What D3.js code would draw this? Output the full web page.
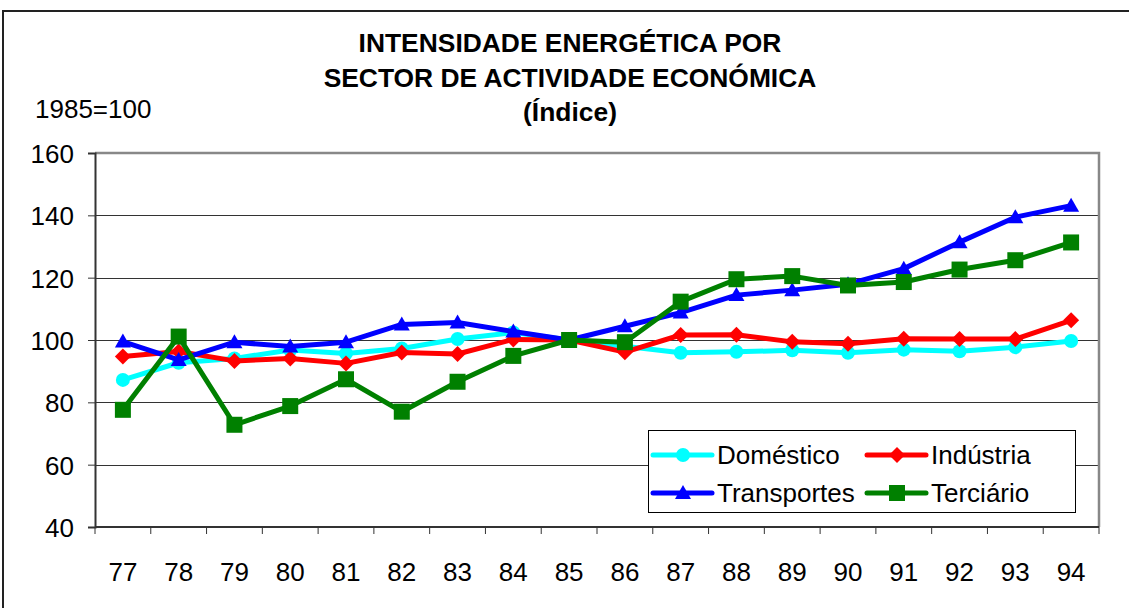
<!DOCTYPE html>
<html>
<head>
<meta charset="utf-8">
<script src="https://cdn.jsdelivr.net/npm/d3@7/dist/d3.min.js"></script>
<style>
  body { margin: 0; background: #fff; }
  svg { display: block; font-family: "Liberation Sans", Arial, sans-serif; }
</style>
</head>
<body>
<div id="chart"></div>
<script>
var years = ["77","78","79","80","81","82","83","84","85","86","87","88","89","90","91","92","93","94"];
var domestico   = [87.2, 92.7, 94.1, 96.8, 95.7, 97.3, 100.3, 102.4, 100, 98.0, 95.9, 96.2, 96.7, 95.9, 96.9, 96.4, 97.7, 99.7];
var industria   = [94.7, 96.3, 93.3, 94.1, 92.5, 96.0, 95.5, 100.2, 100, 96.1, 101.6, 101.7, 99.4, 98.8, 100.4, 100.3, 100.3, 106.3];
var transportes = [99.5, 93.6, 99.3, 97.9, 99.3, 105.0, 105.6, 102.7, 100, 104.4, 108.8, 114.4, 116.0, 117.9, 122.9, 131.4, 139.4, 143.1];
var terciario   = [77.6, 101.1, 72.8, 78.8, 87.4, 77.0, 86.6, 94.9, 100, 99.3, 112.3, 119.5, 120.5, 117.5, 118.6, 122.6, 125.6, 131.3];
var seriesNames = ["Doméstico", "Indústria", "Transportes", "Terciário"];
var yTicks = [40, 60, 80, 100, 120, 140, 160];
var titleLines = ["INTENSIDADE ENERGÉTICA POR", "SECTOR DE ACTIVIDADE ECONÓMICA", "(Índice)"];

var width = 1129, height = 608;
var plot = {left: 95, right: 1099, top: 153, bottom: 527};

var svg = d3.select("#chart").append("svg")
    .attr("width", width)
    .attr("height", height);

// outer frame (only top/left visible)
svg.append("rect")
    .attr("x", 3).attr("y", 11)
    .attr("width", 1140).attr("height", 620)
    .attr("fill", "none")
    .attr("stroke", "#222")
    .attr("stroke-width", 2);

var x = d3.scaleBand().domain(years).range([plot.left, plot.right]).padding(0);
var y = d3.scaleLinear().domain([40, 160]).range([plot.bottom, plot.top]);
function cx(d) { return x(d) + x.bandwidth() / 2; }

// gridlines
svg.append("g").selectAll("line")
  .data(yTicks.filter(function(d) { return d > 40 && d < 160; }))
  .join("line")
    .attr("x1", plot.left).attr("x2", plot.right)
    .attr("y1", function(d) { return Math.round(y(d)) + 0.5; })
    .attr("y2", function(d) { return Math.round(y(d)) + 0.5; })
    .attr("stroke", "#333")
    .attr("stroke-width", 1);

// plot border top/right
svg.append("path")
    .attr("d", "M" + plot.left + "," + plot.top + "H" + plot.right + "V" + plot.bottom)
    .attr("fill", "none")
    .attr("stroke", "#888")
    .attr("stroke-width", 2.5);

// y axis
var yAxis = svg.append("g")
    .attr("transform", "translate(" + plot.left + ",0)")
    .call(d3.axisLeft(y).tickValues(yTicks).tickSize(7).tickPadding(14));
yAxis.select(".domain").attr("stroke", "#333").attr("stroke-width", 2);
yAxis.selectAll(".tick line").attr("stroke", "#333");
yAxis.selectAll("text")
    .attr("font-family", "Liberation Sans, Arial, sans-serif")
    .attr("font-size", 26)
    .attr("fill", "#000")
    .attr("dy", "0.36em");

// x axis
var xAxis = svg.append("g")
    .attr("transform", "translate(0," + plot.bottom + ")");
xAxis.append("line")
    .attr("x1", plot.left).attr("x2", plot.right)
    .attr("y1", 0).attr("y2", 0)
    .attr("stroke", "#333").attr("stroke-width", 2);
xAxis.selectAll(".tk")
  .data(years.concat(["end"]))
  .join("line")
    .attr("class", "tk")
    .attr("x1", function(d, i) { return i < years.length ? x(d) : plot.right; })
    .attr("x2", function(d, i) { return i < years.length ? x(d) : plot.right; })
    .attr("y1", 0).attr("y2", 7)
    .attr("stroke", "#333");
xAxis.selectAll("text")
  .data(years)
  .join("text")
    .attr("x", cx)
    .attr("y", 54)
    .attr("text-anchor", "middle")
    .attr("font-size", 26)
    .text(function(d) { return d; });

// title
svg.append("g").selectAll("text")
  .data(titleLines)
  .join("text")
    .attr("x", 570)
    .attr("y", function(d, i) { return 52 + i * 34.5; })
    .attr("text-anchor", "middle")
    .attr("font-weight", "bold")
    .attr("font-size", 26.4)
    .text(function(d) { return d; });

svg.append("text")
    .attr("x", 35).attr("y", 118)
    .attr("font-size", 26)
    .text("1985=100");

// markers
function drawMarker(g, type, color) {
  if (type === "circle") {
    g.append("circle").attr("r", 7).attr("fill", color);
  } else if (type === "diamond") {
    g.append("path").attr("d", "M0,-8L8,0L0,8L-8,0Z").attr("fill", color);
  } else if (type === "triangle") {
    g.append("path").attr("d", "M0,-8L8,6L-8,6Z").attr("fill", color);
  } else {
    g.append("rect").attr("x", -8).attr("y", -8).attr("width", 16).attr("height", 16).attr("fill", color);
  }
}

var series = [
  {name: seriesNames[0], values: domestico, color: "#00ffff", marker: "circle"},
  {name: seriesNames[1], values: industria, color: "#ff0000", marker: "diamond"},
  {name: seriesNames[2], values: transportes, color: "#0000ff", marker: "triangle"},
  {name: seriesNames[3], values: terciario, color: "#008000", marker: "square"}
];

var line = d3.line()
    .x(function(d, i) { return cx(years[i]); })
    .y(function(d) { return y(d); });

series.forEach(function(s) {
  var g = svg.append("g");
  g.append("path")
      .attr("d", line(s.values))
      .attr("fill", "none")
      .attr("stroke", s.color)
      .attr("stroke-width", 5)
      .attr("stroke-linejoin", "round");
  s.values.forEach(function(v, i) {
    var m = g.append("g").attr("transform", "translate(" + cx(years[i]) + "," + y(v) + ")");
    drawMarker(m, s.marker, s.color);
  });
});

// legend
var legend = svg.append("g");
legend.append("rect")
    .attr("x", 648.5).attr("y", 430.5)
    .attr("width", 427).attr("height", 82)
    .attr("fill", "#fff")
    .attr("stroke", "#000")
    .attr("stroke-width", 1);
var legendPos = [[653, 455], [867, 455], [653, 493], [867, 493]];
series.forEach(function(s, i) {
  var p = legendPos[i];
  var g = legend.append("g").attr("transform", "translate(" + p[0] + "," + p[1] + ")");
  g.append("line")
      .attr("x1", 0).attr("x2", 59)
      .attr("stroke", s.color).attr("stroke-width", 5)
      .attr("stroke-linecap", "round");
  drawMarker(g.append("g").attr("transform", "translate(30,0)"), s.marker, s.color);
  g.append("text")
      .attr("x", 64).attr("y", 9)
      .attr("font-size", 26)
      .text(s.name);
});
</script>
</body>
</html>
